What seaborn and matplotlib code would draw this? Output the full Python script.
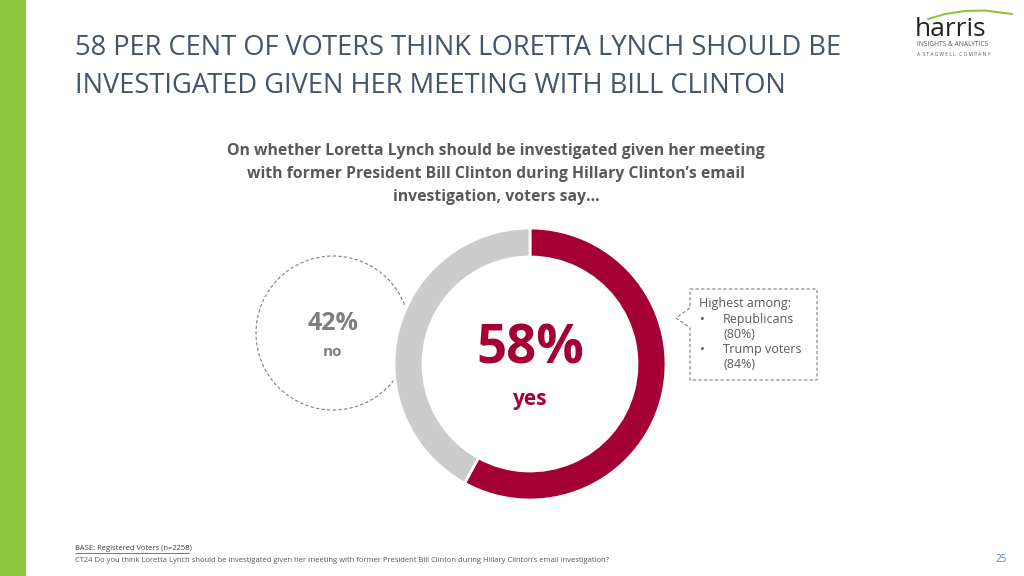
import matplotlib
matplotlib.use("Agg")
import matplotlib.pyplot as plt
import seaborn as sns
from matplotlib.patches import Circle, Polygon

labels = ["yes", "no"]
shares = [58, 42]
colors = ["#A50034", "#CCCCCC"]
highlights = ["Republicans", "(80%)", "Trump voters", "(84%)"]

sns.set_theme(style="white")
plt.rcParams["font.family"] = "Open Sans"

fig = plt.figure(figsize=(10.24, 5.76), dpi=100)
ax = fig.add_axes([0, 0, 1, 1])
H = 576

# green strip on the left
ax.add_patch(plt.Rectangle((0, 0), 26, H, color="#8DC63F", lw=0))

# donut (drawn over the dashed circle)
ax.add_patch(Circle((333, H - 333), 77, fill=False, ls=(0, (3, 2)),
                    lw=0.8, ec="#7F7F7F", zorder=0))
wedges, _ = ax.pie(shares, colors=colors, startangle=90, counterclock=False,
                   center=(530, H - 364), radius=136,
                   wedgeprops=dict(width=29, edgecolor="white", linewidth=2))
for w in wedges:
    w.set_zorder(2)
ax.set_xlim(0, 1024)
ax.set_ylim(0, H)
ax.set_aspect("auto")
ax.axis("off")

ax.text(75, H - 48, "58 PER CENT OF VOTERS THINK LORETTA LYNCH SHOULD BE",
        fontsize=19.6, color="#44546A", va="center")
ax.text(75, H - 86, "INVESTIGATED GIVEN HER MEETING WITH BILL CLINTON",
        fontsize=19.6, color="#44546A", va="center")

ax.text(496, H - 174,
        "On whether Loretta Lynch should be investigated given her meeting\n"
        "with former President Bill Clinton during Hillary Clinton\u2019s email\n"
        "investigation, voters say\u2026",
        ha="center", va="center", fontsize=11.3, fontweight="bold",
        color="#595959", linespacing=1.55)

ax.text(530, H - 350, f"{shares[0]}%", ha="center", va="center",
        fontsize=38, fontweight="bold", color=colors[0])
ax.text(530, H - 400, labels[0], ha="center", va="center",
        fontsize=15, fontweight="bold", color=colors[0])

ax.text(333, H - 324, f"{shares[1]}%", ha="center", va="center",
        fontsize=18, fontweight="bold", color="#7F7F7F")
ax.text(333, H - 352, labels[1], ha="center", va="center",
        fontsize=11, fontweight="bold", color="#7F7F7F")

# callout box
ax.add_patch(Polygon([(690, H - 289), (817, H - 289), (817, H - 380),
                      (690, H - 380), (690, H - 328), (676, H - 318),
                      (690, H - 308)], closed=True, fill=False,
                     ls=(0, (3, 2)), lw=0.8, ec="#7F7F7F"))
ax.text(699, H - 303, "Highest among:", fontsize=9, color="#595959", va="center")
ys = [319, 334, 350, 365]
for t, y in zip(highlights, ys):
    ax.text(723, H - y, t, fontsize=9, color="#595959", va="center")
for y in (319, 350):
    ax.text(700, H - y, "\u2022", fontsize=9, color="#595959", va="center")

# logo
ax.text(915, H - 30, "harris", fontsize=19, color="#222222", va="center")
ax.text(917, H - 44, "INSIGHTS & ANALYTICS", fontsize=4.8, color="#555555",
        va="center")
ax.text(917, H - 54, "A  S T A G W E L L   C O M P A N Y", fontsize=3.5,
        color="#555555", va="center")
ax.plot([928, 945, 965, 985, 1012], [H - 19, H - 14, H - 11, H - 10.5, H - 14],
        color="#8DC63F", lw=1.5)

ax.text(75, H - 549, "BASE: Registered Voters (n=2258)", fontsize=5.5,
        color="#404040", va="center")
ax.plot([75, 189], [H - 553, H - 553], color="#404040", lw=0.5)
ax.text(75, H - 561,
        "CT24 Do you think Loretta Lynch should be investigated given her meeting "
        "with former President Bill Clinton during Hillary Clinton\u2019s email investigation?",
        fontsize=5.5, color="#595959", va="center")
ax.text(1001, H - 560, "25", fontsize=7, color="#4F81BD", va="center", ha="center")

fig.savefig("out.png", dpi=100)
